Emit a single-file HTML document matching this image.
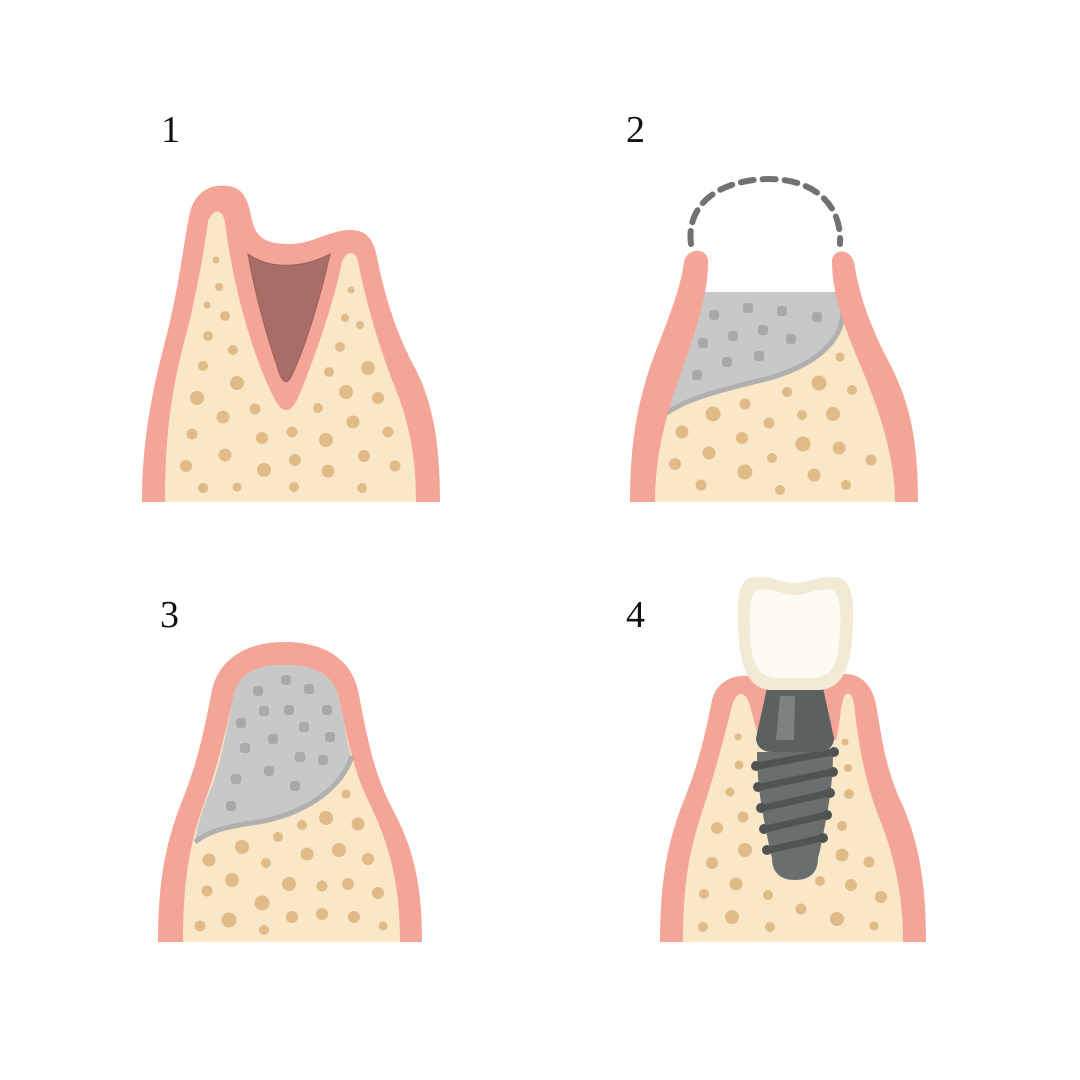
<!DOCTYPE html>
<html><head><meta charset="utf-8"><style>
html,body{margin:0;padding:0;background:#fff;width:1080px;height:1080px;overflow:hidden}
text{font-family:"Liberation Serif",serif;font-size:38px;fill:#111}
</style></head><body>
<svg width="1080" height="1080" viewBox="0 0 1080 1080" xmlns="http://www.w3.org/2000/svg">
<text x="161" y="142">1</text>
<text x="626" y="142">2</text>
<text x="160" y="627">3</text>
<text x="626" y="627">4</text>

<!-- PANEL 1 -->
<path d="M142,502 C142,440 152,390 168,330 C180,280 184,240 190,212 C196,190 212,184 228,186 C244,188 248,200 252,220 C256,238 266,244 290,244 C312,244 330,230 350,230 C368,230 374,240 378,262 C388,310 400,340 416,370 C432,402 440,440 440,502 Z" fill="#f5a597"/>
<path d="M165,502 C165,440 170,400 182,350 C196,300 204,250 208,222 C211,210 222,206 225,222 C232,280 250,350 274,398 C282,414 290,414 298,398 C318,350 334,300 342,262 C346,250 356,250 358,262 C368,310 380,350 396,390 C410,425 416,460 416,502 Z" fill="#f9e7c8"/>
<path d="M248,254 C270,270 304,268 330,254 C320,300 304,350 292,375 C288,384 284,384 280,375 C268,340 256,300 248,254 Z" fill="#a86d66" stroke="#9a5f5a" stroke-width="1"/>
<g fill="#e0bb88">
<circle cx="216" cy="260" r="3.5"/><circle cx="219" cy="287" r="4"/><circle cx="207" cy="305" r="3.5"/><circle cx="225" cy="316" r="5"/><circle cx="208" cy="336" r="5"/><circle cx="233" cy="350" r="5"/><circle cx="203" cy="366" r="5"/><circle cx="237" cy="383" r="7"/><circle cx="197" cy="398" r="7"/><circle cx="223" cy="417" r="6.5"/><circle cx="255" cy="409" r="5.5"/><circle cx="192" cy="434" r="5.5"/><circle cx="225" cy="455" r="6.5"/><circle cx="262" cy="438" r="6"/><circle cx="292" cy="432" r="5.5"/><circle cx="326" cy="440" r="7"/><circle cx="186" cy="466" r="6"/><circle cx="264" cy="470" r="7"/><circle cx="295" cy="460" r="6"/><circle cx="328" cy="471" r="6.5"/><circle cx="203" cy="488" r="5"/><circle cx="237" cy="487" r="4.5"/><circle cx="294" cy="487" r="5"/><circle cx="362" cy="488" r="5"/><circle cx="351" cy="290" r="3.5"/><circle cx="345" cy="318" r="4"/><circle cx="360" cy="325" r="4"/><circle cx="340" cy="347" r="5"/><circle cx="368" cy="368" r="7"/><circle cx="329" cy="372" r="5"/><circle cx="346" cy="392" r="7"/><circle cx="378" cy="398" r="6"/><circle cx="318" cy="408" r="5"/><circle cx="353" cy="422" r="6.5"/><circle cx="388" cy="432" r="5.5"/><circle cx="364" cy="456" r="6"/><circle cx="395" cy="466" r="5.5"/>
</g>

<!-- PANEL 2 -->
<path d="M691,244 C686,205 718,180 768,179 C815,179 842,205 840,244" fill="none" stroke="#6e7275" stroke-width="6" stroke-dasharray="13,9" stroke-linecap="round"/>
<path d="M655,502 L655,440 C662,400 676,365 692,320 C698,300 702,294 710,292 L838,292 C846,300 852,320 862,350 C874,380 895,420 895,502 Z" fill="#f9e7c8"/>
<path d="M703,292 L840,292 C846,330 830,360 770,378 C720,390 680,400 660,418 C666,380 680,350 690,316 Z" fill="#c8c8c8"/>
<path d="M660,418 C680,400 720,390 770,378 C830,360 846,330 842,305" fill="none" stroke="#b0b0b0" stroke-width="5"/>
<g fill="#a9a9a9">
<rect x="709" y="310" width="10" height="10" rx="3"/><rect x="743" y="303" width="10" height="10" rx="3"/><rect x="777" y="306" width="10" height="10" rx="3"/><rect x="812" y="312" width="10" height="10" rx="3"/><rect x="728" y="331" width="10" height="10" rx="3"/><rect x="758" y="325" width="10" height="10" rx="3"/><rect x="786" y="334" width="10" height="10" rx="3"/><rect x="698" y="338" width="10" height="10" rx="3"/><rect x="722" y="357" width="10" height="10" rx="3"/><rect x="754" y="351" width="10" height="10" rx="3"/><rect x="692" y="370" width="10" height="10" rx="3"/>
</g>
<g fill="#e0bb88">
<circle cx="840" cy="357" r="4.5"/><circle cx="819" cy="383" r="7.5"/><circle cx="852" cy="390" r="5"/><circle cx="787" cy="392" r="5"/><circle cx="745" cy="404" r="5.5"/><circle cx="713" cy="414" r="7.5"/><circle cx="802" cy="415" r="5"/><circle cx="833" cy="414" r="7"/><circle cx="769" cy="423" r="5.5"/><circle cx="682" cy="432" r="6.5"/><circle cx="742" cy="438" r="6"/><circle cx="803" cy="444" r="7.5"/><circle cx="839" cy="448" r="6.5"/><circle cx="709" cy="453" r="6.5"/><circle cx="772" cy="458" r="5"/><circle cx="871" cy="460" r="5.5"/><circle cx="675" cy="464" r="6"/><circle cx="745" cy="472" r="7.5"/><circle cx="814" cy="475" r="6.5"/><circle cx="701" cy="485" r="5.5"/><circle cx="780" cy="490" r="5"/><circle cx="846" cy="485" r="5"/>
</g>
<path d="M630,502 C630,440 638,400 654,356 C670,314 680,290 684,262 C686,248 708,246 708,262 C708,300 692,340 680,376 C664,420 655,460 655,502 Z" fill="#f5a597"/>
<path d="M918,502 C918,440 910,405 892,368 C872,330 860,300 854,262 C850,248 832,248 832,262 C832,300 850,340 864,374 C882,418 895,460 895,502 Z" fill="#f5a597"/>

<!-- PANEL 3 -->
<path d="M158,942 C158,880 166,840 184,796 C200,755 206,720 212,690 C220,656 250,642 285,642 C320,642 350,656 358,690 C366,730 372,770 392,808 C412,845 422,880 422,942 Z" fill="#f5a597"/>
<path d="M183,942 C183,880 190,840 206,798 C220,760 228,720 234,694 C240,672 258,665 285,665 C312,665 330,672 338,694 C345,724 350,760 366,796 C388,840 400,880 400,942 Z" fill="#f9e7c8"/>
<path d="M234,694 C240,672 258,665 285,665 C312,665 330,672 338,694 C344,716 346,740 351,756 C340,790 300,815 255,822 C220,828 200,834 195,842 C198,820 206,800 212,786 C224,752 228,720 234,694 Z" fill="#c8c8c8"/>
<path d="M195,842 C210,830 230,826 258,822 C300,815 340,792 352,756" fill="none" stroke="#b0b0b0" stroke-width="5"/>
<g fill="#a9a9a9">
<rect x="281" y="675" width="10" height="10" rx="3"/><rect x="253" y="686" width="10" height="10" rx="3"/><rect x="304" y="684" width="10" height="10" rx="3"/><rect x="259" y="706" width="10" height="10" rx="3"/><rect x="284" y="705" width="10" height="10" rx="3"/><rect x="322" y="705" width="10" height="10" rx="3"/><rect x="236" y="718" width="10" height="10" rx="3"/><rect x="299" y="722" width="10" height="10" rx="3"/><rect x="268" y="734" width="10" height="10" rx="3"/><rect x="325" y="732" width="10" height="10" rx="3"/><rect x="240" y="743" width="10" height="10" rx="3"/><rect x="295" y="752" width="10" height="10" rx="3"/><rect x="318" y="755" width="10" height="10" rx="3"/><rect x="264" y="766" width="10" height="10" rx="3"/><rect x="231" y="774" width="10" height="10" rx="3"/><rect x="290" y="781" width="10" height="10" rx="3"/><rect x="226" y="801" width="10" height="10" rx="3"/>
</g>
<g fill="#e0bb88">
<circle cx="346" cy="794" r="4.5"/><circle cx="326" cy="818" r="7"/><circle cx="302" cy="825" r="5"/><circle cx="358" cy="824" r="6.5"/><circle cx="278" cy="837" r="5"/><circle cx="242" cy="847" r="7"/><circle cx="307" cy="854" r="6.5"/><circle cx="339" cy="850" r="7"/><circle cx="368" cy="859" r="6"/><circle cx="209" cy="860" r="6.5"/><circle cx="266" cy="863" r="5"/><circle cx="232" cy="880" r="7"/><circle cx="289" cy="884" r="7"/><circle cx="322" cy="886" r="5.5"/><circle cx="348" cy="884" r="6"/><circle cx="378" cy="893" r="6"/><circle cx="207" cy="891" r="5.5"/><circle cx="262" cy="903" r="7.5"/><circle cx="229" cy="920" r="7.5"/><circle cx="292" cy="917" r="6"/><circle cx="322" cy="914" r="6"/><circle cx="354" cy="917" r="6"/><circle cx="200" cy="926" r="5.5"/><circle cx="264" cy="930" r="5"/><circle cx="383" cy="926" r="4.5"/>
</g>

<!-- PANEL 4 -->
<path d="M660,942 C660,880 668,840 684,800 C700,760 706,730 712,700 C716,684 730,674 750,676 L845,674 C862,674 872,686 876,704 C882,740 886,770 902,804 C918,840 926,880 926,942 Z" fill="#f5a597"/>
<path d="M683,942 C683,880 690,850 702,812 C716,770 726,730 732,706 C736,690 746,690 750,706 C754,720 756,730 760,740 L836,740 C840,724 840,712 842,704 C844,690 852,690 854,704 C858,740 864,780 880,820 C896,860 903,900 903,942 Z" fill="#f9e7c8"/>
<g fill="#e0bb88">
<circle cx="738" cy="737" r="3.5"/><circle cx="739" cy="765" r="4.5"/><circle cx="730" cy="792" r="4.5"/><circle cx="743" cy="817" r="5.5"/><circle cx="717" cy="828" r="6"/><circle cx="745" cy="850" r="7"/><circle cx="712" cy="863" r="6"/><circle cx="736" cy="884" r="6.5"/><circle cx="704" cy="894" r="5"/><circle cx="768" cy="895" r="5"/><circle cx="732" cy="917" r="7"/><circle cx="703" cy="927" r="5"/><circle cx="770" cy="927" r="5"/><circle cx="801" cy="909" r="5.5"/><circle cx="837" cy="919" r="7"/><circle cx="874" cy="926" r="4.5"/><circle cx="820" cy="881" r="5"/><circle cx="851" cy="885" r="6"/><circle cx="881" cy="897" r="6"/><circle cx="842" cy="855" r="6.5"/><circle cx="869" cy="862" r="5.5"/><circle cx="842" cy="826" r="5"/><circle cx="849" cy="794" r="5"/><circle cx="848" cy="768" r="4"/><circle cx="845" cy="742" r="3.5"/>
</g>
<!-- implant -->
<path d="M757,752 L833,752 C833,790 826,820 820,850 L818,858 C818,874 808,880 795,880 C782,880 772,874 772,858 L770,850 C764,820 757,790 757,752 Z" fill="#6a6e6c"/>
<g stroke="#4f5352" stroke-width="7" stroke-linecap="round" fill="none">
<path d="M758,766 L832,752"/><path d="M760,787 L832,772"/><path d="M763,808 L829,793"/><path d="M766,829 L826,815"/><path d="M769,850 L822,838"/>
</g>
<g fill="#4f5352">
<circle cx="756" cy="766" r="5"/><circle cx="834" cy="752" r="5"/><circle cx="758" cy="787" r="5"/><circle cx="833" cy="772" r="5"/><circle cx="761" cy="808" r="5"/><circle cx="830" cy="793" r="5"/><circle cx="764" cy="829" r="5"/><circle cx="827" cy="815" r="5"/><circle cx="767" cy="850" r="5"/><circle cx="823" cy="838" r="5"/>
</g>
<path d="M767,688 L823,688 L834,738 C834,746 828,752 818,752 L772,752 C762,752 756,746 756,738 Z" fill="#5c605f"/>
<path d="M780,696 L795,696 L794,740 L776,740 Z" fill="#7d817f"/>
<!-- crown -->
<path d="M750,578 C770,574 780,583 795,583 C810,583 822,574 840,578 C852,582 854,600 853,625 C852,660 846,688 820,690 L770,690 C745,688 739,660 738,625 C737,600 738,582 750,578 Z" fill="#f3ead6"/>
<path d="M758,590 C774,587 782,595 795,595 C808,595 818,587 832,590 C840,593 841,610 840,630 C839,660 834,676 815,678 L775,678 C756,676 751,660 750,630 C749,610 750,593 758,590 Z" fill="#fdfaf3"/>
</svg>
</body></html>
